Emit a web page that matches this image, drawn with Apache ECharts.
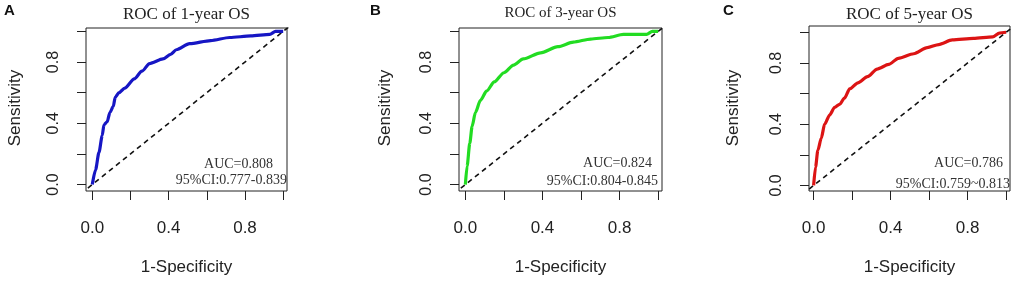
<!DOCTYPE html>
<html>
<head>
<meta charset="utf-8">
<script src="https://cdn.jsdelivr.net/npm/echarts@6/dist/echarts.min.js"></script>
<style>
  html, body { margin: 0; padding: 0; background: #fff; }
  #chart { width: 1021px; height: 281px; }
</style>
</head>
<body>
<div id="chart"></div>
<script>
// 1-Specificity (x) and Sensitivity (y)
const fpr1y = [0, 0.017, 0.035, 0.052, 0.061, 0.078, 0.092, 0.11, 0.12, 0.14, 0.17, 0.22, 0.26, 0.30, 0.37, 0.41, 0.44, 0.51, 0.62, 0.72, 0.83, 0.93, 0.96, 1.0]
const tpr1y = [0, 0.096, 0.21, 0.32, 0.39, 0.41, 0.47, 0.51, 0.57, 0.60, 0.63, 0.69, 0.74, 0.79, 0.82, 0.85, 0.88, 0.92, 0.94, 0.96, 0.97, 0.98, 1.0, 1.0]

const fpr3y = [0, 0.009, 0.023, 0.035, 0.052, 0.078, 0.11, 0.15, 0.20, 0.25, 0.30, 0.39, 0.48, 0.56, 0.65, 0.74, 0.82, 0.94, 0.97, 1.0]
const tpr3y = [0, 0.12, 0.27, 0.38, 0.47, 0.55, 0.61, 0.67, 0.73, 0.78, 0.82, 0.86, 0.90, 0.93, 0.95, 0.96, 0.98, 0.98, 1.0, 1.0]

const fpr5y = [0, 0.01, 0.022, 0.04, 0.057, 0.083, 0.109, 0.135, 0.16, 0.187, 0.23, 0.28, 0.33, 0.39, 0.44, 0.52, 0.59, 0.65, 0.72, 0.83, 0.93, 0.965, 1.0]
const tpr5y = [0, 0.12, 0.23, 0.31, 0.40, 0.46, 0.51, 0.53, 0.57, 0.63, 0.67, 0.71, 0.76, 0.79, 0.83, 0.86, 0.90, 0.92, 0.95, 0.96, 0.97, 0.995, 1.0]

// reference line y = x (spans the whole box)
const diagonal = [-0.06, 1.06]

const tickValues = [0, 0.2, 0.4, 0.6, 0.8, 1.0]
const tickLabels = [0, 0.4, 0.8]

const panels = [
  {
    letter: 'A', title: 'ROC of 1-year OS', titleSize: 17, titleY: 15,
    fpr: fpr1y, tpr: tpr1y, color: '#1616c4',
    auc: 'AUC=0.808', ci: '95%CI:0.777-0.839', aucRight: 273, ciRight: 287, aucY: 164, ciY: 180,
    box: { left: 86, top: 28, width: 201, height: 163 },
    xRange: [-0.033, 1.02], yRange: [-0.042, 1.022],
    letterX: 4, yNameX: 15
  },
  {
    letter: 'B', title: 'ROC of 3-year OS', titleSize: 15, titleY: 13,
    fpr: fpr3y, tpr: tpr3y, color: '#22dc22',
    auc: 'AUC=0.824', ci: '95%CI:0.804-0.845', aucRight: 652, ciRight: 658, aucY: 163, ciY: 181,
    box: { left: 459, top: 28, width: 203, height: 163 },
    xRange: [-0.033, 1.02], yRange: [-0.042, 1.022],
    letterX: 370, yNameX: 385
  },
  {
    letter: 'C', title: 'ROC of 5-year OS', titleSize: 17, titleY: 15,
    fpr: fpr5y, tpr: tpr5y, color: '#dc1414',
    auc: 'AUC=0.786', ci: '95%CI:0.759~0.813', aucRight: 1003, ciRight: 1010, aucY: 163, ciY: 184,
    box: { left: 809, top: 26, width: 201, height: 165 },
    xRange: [-0.024, 1.02], yRange: [-0.036, 1.041],
    letterX: 723, yNameX: 733
  }
]

const sans = '"Liberation Sans", Arial, sans-serif'
const serif = '"Liberation Serif", "Times New Roman", serif'

const chart = echarts.init(document.getElementById('chart'))

const grid = []
const xAxis = []
const yAxis = []
const series = []
const graphic = []

panels.forEach((p, i) => {
  grid.push({
    left: p.box.left, top: p.box.top, width: p.box.width, height: p.box.height,
    show: true, borderColor: '#222', borderWidth: 1, backgroundColor: 'transparent'
  })
  xAxis.push({
    gridIndex: i, type: 'value', min: p.xRange[0], max: p.xRange[1],
    axisLine: { show: false, onZero: false },
    axisTick: { show: true, inside: false, length: 9, customValues: tickValues, lineStyle: { color: '#222', width: 1 } },
    axisLabel: { customValues: tickLabels, formatter: v => v.toFixed(1), margin: 29, fontSize: 17, color: '#222', fontFamily: sans },
    splitLine: { show: false }
  })
  yAxis.push({
    gridIndex: i, type: 'value', min: p.yRange[0], max: p.yRange[1],
    axisLine: { show: false, onZero: false },
    axisTick: { show: true, inside: false, length: 9, customValues: tickValues, lineStyle: { color: '#222', width: 1 } },
    axisLabel: { customValues: tickLabels, formatter: v => v.toFixed(1), rotate: 90, margin: 24, fontSize: 16, color: '#222', fontFamily: sans },
    splitLine: { show: false }
  })
  series.push({
    type: 'line', xAxisIndex: i, yAxisIndex: i,
    data: diagonal.map(v => [v, v]),
    symbol: 'none', silent: true, clip: true,
    lineStyle: { color: '#111', width: 1.6, type: [5, 4] }
  })
  series.push({
    type: 'line', xAxisIndex: i, yAxisIndex: i,
    data: p.fpr.map((x, k) => [x, p.tpr[k]]),
    symbol: 'none', clip: true, smooth: 0.25, smoothMonotone: 'x',
    lineStyle: { color: p.color, width: 3.2 }
  })

  const cx = p.box.left + p.box.width / 2
  graphic.push(
    { type: 'text', left: p.letterX, top: 3, style: { text: p.letter, font: 'bold 15px ' + sans, fill: '#111' } },
    { type: 'text', x: cx, y: p.titleY, style: { text: p.title, font: p.titleSize + 'px ' + serif, fill: '#222', textAlign: 'center', textVerticalAlign: 'middle' } },
    { type: 'text', x: cx, y: 267, style: { text: '1-Specificity', font: '17px ' + sans, fill: '#222', textAlign: 'center', textVerticalAlign: 'middle' } },
    { type: 'text', x: p.yNameX, y: 108, rotation: Math.PI / 2, style: { text: 'Sensitivity', font: '17px ' + sans, fill: '#222', textAlign: 'center', textVerticalAlign: 'middle' } },
    { type: 'text', x: p.aucRight, y: p.aucY, style: { text: p.auc, font: '14px ' + serif, fill: '#333', textAlign: 'right', textVerticalAlign: 'middle' } },
    { type: 'text', x: p.ciRight, y: p.ciY, style: { text: p.ci, font: '14px ' + serif, fill: '#333', textAlign: 'right', textVerticalAlign: 'middle' } }
  )
})

chart.setOption({
  backgroundColor: '#fff',
  animation: false,
  grid,
  xAxis,
  yAxis,
  series,
  graphic
})
</script>
</body>
</html>
